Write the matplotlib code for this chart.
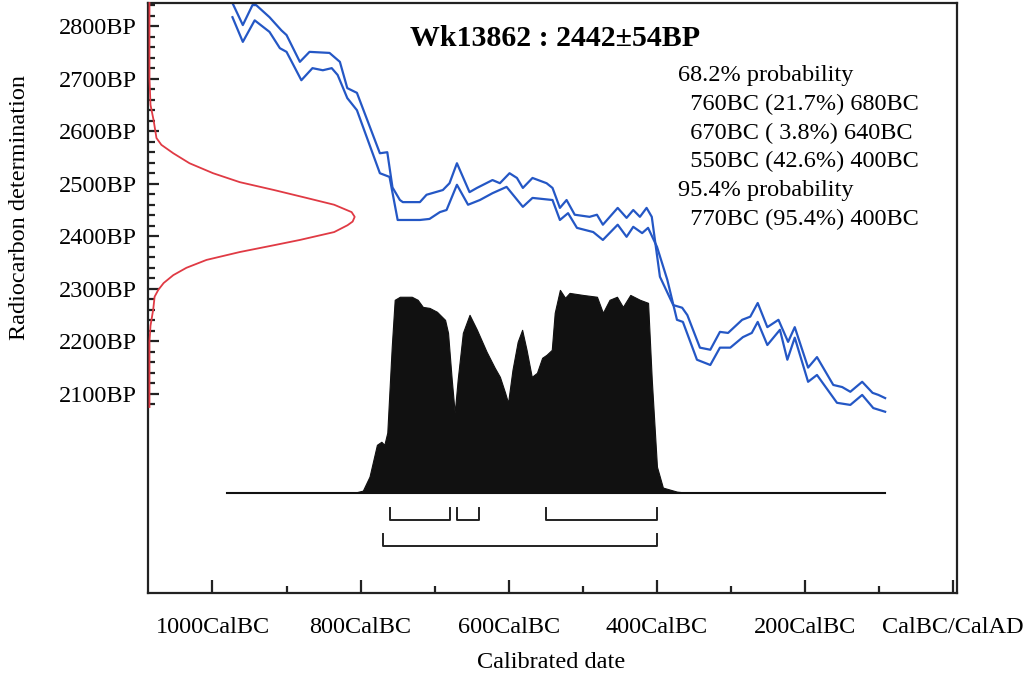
import numpy as np
import matplotlib
matplotlib.use('Agg')
import matplotlib.pyplot as plt
from matplotlib.ticker import FixedLocator

plt.rcParams['font.family'] = ['Liberation Serif', 'DejaVu Serif']

# Calibration curve envelopes (cal year, negative = BC ; radiocarbon BP)
upper_year = [-973, -959, -946, -941, -923, -907, -900, -882, -869, -842,
              -828, -818, -805, -774, -764, -757, -747, -743, -720, -711,
              -689, -680, -670, -653, -643, -622, -612, -599, -589, -581,
              -568, -549, -541, -531, -522, -511, -491, -481, -473, -453,
              -441, -432, -423, -414, -407, -396, -378, -366, -359, -342,
              -328, -315, -304, -285, -274, -264, -251, -236, -223, -214,
              -196, -184, -162, -150, -139, -123, -109, -101, -92]
upper_bp = [2844, 2802, 2840, 2840, 2817, 2792, 2783, 2732, 2751, 2749,
            2732, 2682, 2673, 2558, 2560, 2493, 2469, 2465, 2465, 2479,
            2488, 2501, 2539, 2484, 2492, 2507, 2501, 2520, 2511, 2492,
            2511, 2501, 2492, 2454, 2469, 2441, 2437, 2441, 2422, 2454,
            2435, 2450, 2437, 2454, 2437, 2323, 2269, 2264, 2250, 2188,
            2184, 2218, 2216, 2241, 2247, 2273, 2227, 2241, 2199, 2227,
            2150, 2170, 2117, 2113, 2104, 2123, 2102, 2098, 2092]

lower_year = [-973, -959, -943, -923, -909, -900, -880, -865, -851, -839,
              -831, -818, -805, -774, -761, -750, -720, -707, -693, -684,
              -670, -655, -639, -622, -603, -581, -568, -541, -531, -520,
              -508, -486, -473, -453, -441, -432, -420, -412, -400, -386,
              -373, -365, -346, -328, -315, -301, -284, -272, -264, -251,
              -234, -224, -214, -196, -184, -157, -139, -123, -108, -92]
lower_bp = [2817, 2770, 2811, 2789, 2758, 2751, 2697, 2720, 2716, 2720,
            2707, 2663, 2640, 2520, 2513, 2431, 2431, 2433, 2446, 2450,
            2498, 2460, 2469, 2482, 2494, 2456, 2473, 2469, 2431, 2444,
            2416, 2408, 2393, 2422, 2399, 2418, 2406, 2416, 2380, 2317,
            2241, 2237, 2165, 2155, 2188, 2188, 2208, 2216, 2237, 2193,
            2222, 2165, 2207, 2123, 2136, 2083, 2079, 2098, 2073, 2066]

# Calibrated probability distribution (relative)
dist_year = [-808, -797, -788, -778, -772, -768, -764, -758, -754, -747,
             -731, -723, -716, -707, -697, -686, -682, -677, -673, -669,
             -662, -653, -643, -630, -619, -612, -605, -601, -595, -588,
             -582, -576, -569, -562, -555, -549, -542, -538, -531, -524,
             -518, -500, -481, -473, -464, -454, -446, -436, -423, -412,
             -407, -400, -392, -373, -360]
dist_p = [0, 0.01, 0.079, 0.236, 0.251, 0.236, 0.296, 0.719, 0.951, 0.966,
          0.966, 0.951, 0.916, 0.911, 0.892, 0.852, 0.788, 0.557, 0.394, 0.557,
          0.788, 0.877, 0.803, 0.695, 0.616, 0.571, 0.493, 0.443, 0.606, 0.744,
          0.803, 0.704, 0.571, 0.591, 0.665, 0.680, 0.704, 0.887, 1.0, 0.961,
          0.985, 0.975, 0.966, 0.887, 0.951, 0.966, 0.916, 0.975, 0.951, 0.936,
          0.557, 0.128, 0.025, 0.005, 0]
dist_span = [-980, -92]

# Radiocarbon measurement distribution (red, on the y axis)
red_bp = [2844, 2700, 2650, 2621, 2587, 2574, 2558, 2539, 2520, 2503,
          2488, 2473, 2460, 2446, 2437, 2428, 2421, 2408, 2393, 2383, 2370,
          2355, 2340, 2326, 2311, 2298, 2285, 2260, 2230, 2200, 2075]
red_p = [0, 0, 0.005, 0.02, 0.034, 0.058, 0.116, 0.195, 0.31, 0.44,
         0.607, 0.765, 0.9, 0.985, 1.0, 0.99, 0.965, 0.9, 0.733, 0.607, 0.44,
         0.278, 0.18, 0.116, 0.069, 0.043, 0.025, 0.018, 0.005, 0, 0]

# Ranges (BC)
ranges_68 = [(760, 680), (670, 640), (550, 400)]
ranges_95 = [(770, 400)]

title = 'Wk13862 : 2442\u00b154BP'
info_lines = ['68.2% probability',
              '  760BC (21.7%) 680BC',
              '  670BC ( 3.8%) 640BC',
              '  550BC (42.6%) 400BC',
              '95.4% probability',
              '  770BC (95.4%) 400BC']

x_ticks = [-1000, -800, -600, -400, -200, 0]
x_labels = ['1000CalBC', '800CalBC', '600CalBC', '400CalBC', '200CalBC', 'CalBC/CalAD']
y_ticks = [2100, 2200, 2300, 2400, 2500, 2600, 2700, 2800]
y_labels = [f'{v}BP' for v in y_ticks]

W, H = 1030, 683
fig = plt.figure(figsize=(W / 100, H / 100), dpi=100)
ax = fig.add_axes([148 / W, 1 - 593 / H, (957 - 148) / W, (593 - 3) / H])
xmin, xmax = -1087, 5
ymin, ymax = 1721, 2844
ax.set_xlim(xmin, xmax)
ax.set_ylim(ymin, ymax)

blue = '#2457c5'
ax.plot(upper_year, upper_bp, color=blue, lw=1.6, solid_joinstyle='round')
ax.plot(lower_year, lower_bp, color=blue, lw=1.6, solid_joinstyle='round')

# probability distribution
base_bp = 1912
height_bp = 386
dy = base_bp + height_bp * np.array(dist_p)
ax.fill_between(dist_year, base_bp, dy, color='#111111', lw=0.8, edgecolor='#111111', zorder=3)
ax.plot(dist_span, [base_bp, base_bp], color='#111111', lw=1.5, zorder=3)

# red measurement curve
red_amp = 277
ax.plot(xmin + 2 + red_amp * np.array(red_p), red_bp, color='#e03a44', lw=1.3,
        clip_on=False, zorder=4, solid_joinstyle='round')

# range brackets
def bracket(a, b, y, h):
    ax.plot([-a, -a, -b, -b], [y + h, y, y, y + h], color='#222222', lw=1.4)

for a, b in ranges_68:
    bracket(a, b, 1860, 23)
for a, b in ranges_95:
    bracket(a, b, 1811, 23)

# axes styling
for s in ax.spines.values():
    s.set_linewidth(1.6)
    s.set_color('#222222')

ax.xaxis.set_major_locator(FixedLocator(x_ticks))
ax.set_xticklabels(x_labels)
ax.xaxis.set_minor_locator(FixedLocator([-900, -700, -500, -300, -100]))
ax.yaxis.set_major_locator(FixedLocator(y_ticks))
ax.set_yticklabels(y_labels)
ax.yaxis.set_minor_locator(FixedLocator([v for v in range(2080, 2841, 20) if v % 100]))

ax.tick_params(axis='both', which='both', direction='in', color='#222222', width=1.6,
               labelsize=17.5, top=False, right=False)
ax.tick_params(axis='x', which='major', length=9.5, pad=17)
ax.tick_params(axis='x', which='minor', length=5)
ax.tick_params(axis='y', which='major', length=8, pad=8)
ax.tick_params(axis='y', which='minor', length=5)

fig.text(20 / W, 1 - 207 / H, 'Radiocarbon determination', rotation=90,
         ha='center', va='center', fontsize=17.5)
fig.text(551 / W, 1 - 663 / H, 'Calibrated date', ha='center', va='center', fontsize=17.5)

fig.text(555 / W, 1 - 38 / H, title, ha='center', va='center', fontsize=21.5,
         fontweight='bold')
for i, line in enumerate(info_lines):
    fig.text(678 / W, 1 - (76 + i * 28.6) / H, line, ha='left', va='center',
             fontsize=17.5)

fig.savefig('out.png', dpi=100)
